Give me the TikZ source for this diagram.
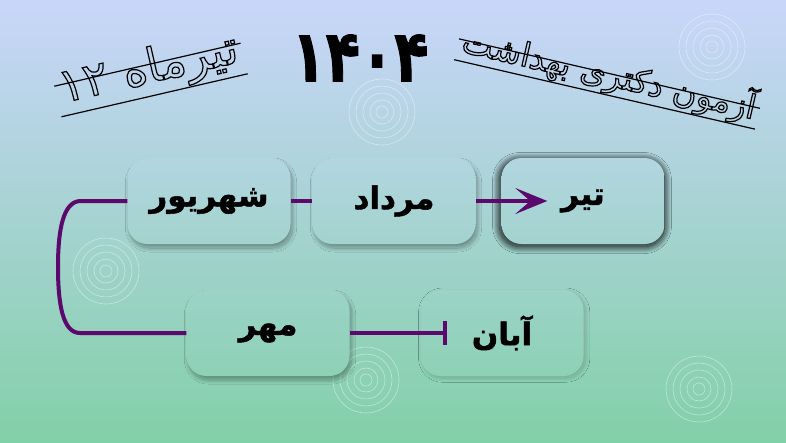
\documentclass[tikz,border=0pt]{standalone}
\usepackage{fontspec}
\usetikzlibrary{arrows.meta,shadows.blur}
\TeXXeTstate=1
\newfontfamily\heavyfont[Script=Arabic,FakeBold=1.5]{DejaVu Sans Bold}
\newfontfamily\plainfont[Script=Arabic]{DejaVu Sans}
\definecolor{bgtop}{RGB}{201,214,250}
\definecolor{bgbot}{RGB}{130,208,168}
\definecolor{boxa}{RGB}{178,214,224}
\definecolor{boxb}{RGB}{163,211,206}
\definecolor{boxc}{RGB}{155,211,198}
\definecolor{boxd}{RGB}{142,209,182}
\definecolor{linkpurple}{RGB}{92,8,108}
% hollow letters for the two titles
\newcommand\hollow[1]{\special{pdf:literal direct 1 Tr 1.2 w}#1\special{pdf:literal direct 0 Tr}}
\tikzset{
  month/.style={rounded corners=20pt, minimum width=163pt, minimum height=86pt,
    inner sep=0pt, font=\heavyfont\fontsize{31}{31}\selectfont,
    blur shadow={shadow xshift=2pt, shadow yshift=-4pt, shadow blur radius=4pt,
      shadow blur steps=30, shadow opacity=35}},
  uprow/.style={top color=boxa, bottom color=boxb},
  lowrow/.style={top color=boxc, bottom color=boxd},
  link/.style={draw=linkpurple, line width=4pt},
  ripple/.style={draw=white, line width=0.6pt, opacity=0.45},
  titleline/.style={line width=1.2pt},
}
\begin{document}
\begin{tikzpicture}[x=1pt,y=-1pt]
  \useasboundingbox (0,0) rectangle (786,442);
  \shade[top color=bgtop, bottom color=bgbot] (0,0) rectangle (786,442);
  % ripples
  \foreach \p in {(712,47),(382,112),(106,271),(366,380),(699,389)}
    \foreach \r in {33,26,19,12,6}
      \draw[ripple] \p circle (\r pt);

  % titles
  \node[font=\heavyfont\fontsize{72}{72}\selectfont, xscale=0.78] (year) at (360,58) {۱۴۰۴};
  \node[rotate=13, font=\plainfont\fontsize{47}{47}\selectfont, inner xsep=4pt, inner ysep=0pt,
    text height=18pt, text depth=13pt] (tirmah) at (151,80) {\hollow{\beginR تیرماه ۱۲\endR}};
  \draw[titleline] (tirmah.north west) -- (tirmah.north east)
    (tirmah.south west) -- (tirmah.south east);
  \node[rotate=-13, font=\plainfont\fontsize{33}{33}\selectfont, inner xsep=4pt, inner ysep=0pt,
    text height=12pt, text depth=9pt] (azmoon) at (607,84) {\hollow{\beginR آزمون دکتری بهداشت\endR}};
  \draw[titleline] (azmoon.north west) -- (azmoon.north east)
    (azmoon.south west) -- (azmoon.south east);

  % months
  \node[month, uprow] (shahrivar) at (209,201) {\beginR شهریور\endR};
  \node[month, uprow] (mordad) at (394,201) {\beginR مرداد\endR};
  \node[month, uprow, blur shadow={shadow xshift=-1pt, shadow yshift=-2pt, shadow blur radius=7pt,
    shadow blur steps=30, shadow opacity=60, shadow scale=1.01}] (tir) at (583,201) {\beginR تیر\endR};
  \node[month, lowrow] (mehr) at (268,333) {\beginR مهر\endR};
  \node[month, lowrow, blur shadow={shadow opacity=10}] (aban) at (502,333) {\beginR آبان\endR};

  % links
  \draw[link] (shahrivar.east) -- (mordad.west);
  \draw[link, -{Stealth[length=32pt, width=26pt, inset=15pt]}] (mordad.east) -- ([xshift=46pt]tir.west);
  \draw[link] (shahrivar.west) -- (80,201) .. controls (63,202) and (58,230) .. (58,267)
    .. controls (58,305) and (63,333) .. (80,333) -- (mehr.west);
  \draw[link, -{Bar[width=24pt]}] (mehr.east) -- ([xshift=27pt]aban.west);
\end{tikzpicture}
\end{document}
